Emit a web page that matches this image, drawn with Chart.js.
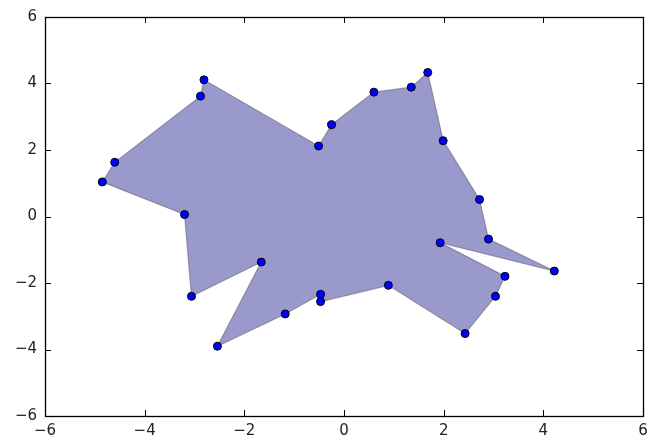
<!DOCTYPE html>
<html><head><meta charset="utf-8">
<script src="https://cdn.jsdelivr.net/npm/chart.js@4/dist/chart.umd.min.js"></script>
<style>html,body{margin:0;padding:0;background:#fff}canvas{display:block}</style>
</head><body><canvas id="c" width="658" height="441"></canvas>
<script>
// Polygon vertices (in drawing order, sorted by angle)
const xValues = [2.72, 1.99, 1.68, 1.35, 0.60, -0.25, -0.51, -2.81, -2.88, -4.60, -4.85, -3.20, -3.06, -1.66, -2.54, -1.18, -0.47, -0.47, 0.89, 2.43, 3.04, 3.23, 1.93, 4.22, 2.90];
const yValues = [0.51, 2.28, 4.33, 3.89, 3.74, 2.76, 2.12, 4.11, 3.62, 1.63, 1.04, 0.06, -2.40, -1.37, -3.90, -2.93, -2.34, -2.56, -2.07, -3.52, -2.40, -1.80, -0.79, -1.64, -0.68];
const tickValues = [-6, -4, -2, 0, 2, 4, 6];

const points = xValues.map((x, i) => ({x: x, y: yValues[i]}));
const closed = points.concat([points[0]]);

const fmt = v => String(v).replace('-', '\u2212');

const tickPlugin = {
  id: 'boxTicks',
  afterDraw(chart) {
    const ctx = chart.ctx, a = chart.chartArea;
    const xs = chart.scales.x, ys = chart.scales.y;
    const L = 6;
    ctx.save();
    ctx.strokeStyle = '#000';
    ctx.lineWidth = 1;
    ctx.beginPath();
    tickValues.forEach(v => {
      const px = Math.round(xs.getPixelForValue(v)) + 0.5;
      ctx.moveTo(px, a.bottom); ctx.lineTo(px, a.bottom - L);
      ctx.moveTo(px, a.top); ctx.lineTo(px, a.top + L);
      const py = Math.round(ys.getPixelForValue(v)) + 0.5;
      ctx.moveTo(a.left, py); ctx.lineTo(a.left + L, py);
      ctx.moveTo(a.right, py); ctx.lineTo(a.right - L, py);
    });
    ctx.stroke();
    ctx.lineWidth = 1.3;
    ctx.strokeRect(Math.round(a.left) + 0.5, Math.round(a.top) + 0.5, Math.round(a.right - a.left), Math.round(a.bottom - a.top));
    ctx.restore();
  }
};

const tickFont = {family: 'DejaVu Sans', size: 15};

new Chart(document.getElementById('c'), {
  type: 'scatter',
  data: {
    datasets: [
      {
        data: points,
        order: 0,
        showLine: false,
        pointRadius: 4,
        pointBorderWidth: 1,
        pointBackgroundColor: '#0000ff',
        pointBorderColor: '#000000'
      },
      {
        data: closed,
        order: 1,
        showLine: true,
        fill: 'shape',
        backgroundColor: 'rgba(0,0,128,0.4)',
        borderColor: 'rgba(100,100,120,0.6)',
        borderWidth: 1.2,
        pointRadius: 0,
        tension: 0
      }
    ]
  },
  options: {
    responsive: false,
    animation: false,
    events: [],
    layout: {padding: {top: 16, right: 15, left: 0, bottom: 0}},
    plugins: {legend: {display: false}, tooltip: {enabled: false}},
    scales: {
      x: {
        type: 'linear', min: -6, max: 6,
        afterBuildTicks: s => { s.ticks = tickValues.map(v => ({value: v})); },
        afterFit: s => { s.height = 25; },
        grid: {display: false, drawTicks: false},
        border: {display: false},
        ticks: {font: tickFont, color: '#222', padding: 6, callback: v => fmt(v), maxRotation: 0, autoSkip: false}
      },
      y: {
        type: 'linear', min: -6, max: 6,
        afterBuildTicks: s => { s.ticks = tickValues.map(v => ({value: v})); },
        afterFit: s => { s.width = 45; },
        grid: {display: false, drawTicks: false},
        border: {display: false},
        ticks: {font: tickFont, color: '#222', padding: 8, callback: v => fmt(v), autoSkip: false}
      }
    }
  },
  plugins: [tickPlugin]
});
</script>
</body></html>
